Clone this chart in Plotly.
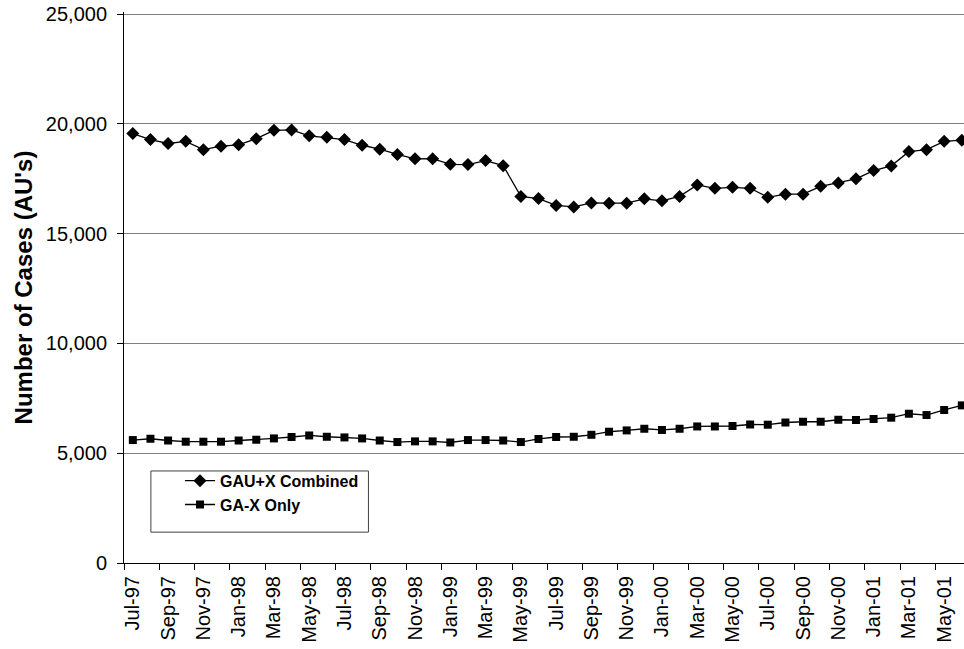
import plotly.graph_objects as go

months = ["Jul-97","Aug-97","Sep-97","Oct-97","Nov-97","Dec-97",
          "Jan-98","Feb-98","Mar-98","Apr-98","May-98","Jun-98",
          "Jul-98","Aug-98","Sep-98","Oct-98","Nov-98","Dec-98",
          "Jan-99","Feb-99","Mar-99","Apr-99","May-99","Jun-99",
          "Jul-99","Aug-99","Sep-99","Oct-99","Nov-99","Dec-99",
          "Jan-00","Feb-00","Mar-00","Apr-00","May-00","Jun-00",
          "Jul-00","Aug-00","Sep-00","Oct-00","Nov-00","Dec-00",
          "Jan-01","Feb-01","Mar-01","Apr-01","May-01","Jun-01"]

gau_x_combined = [19560, 19290, 19110, 19210, 18830, 18990, 19050, 19330, 19710, 19730, 19460, 19390,
                  19290, 19030, 18850, 18610, 18410, 18420, 18160, 18150, 18330, 18100, 16700, 16600,
                  16290, 16220, 16400, 16390, 16390, 16590, 16500, 16700, 17220, 17070, 17115, 17070,
                  16660, 16800, 16800, 17160, 17315, 17500, 17875, 18090, 18740, 18830, 19210, 19260]

ga_x_only = [5600, 5660, 5580, 5525, 5525, 5525, 5580, 5615, 5675, 5740, 5810, 5750,
             5720, 5675, 5580, 5510, 5540, 5540, 5490, 5600, 5600, 5580, 5510, 5650,
             5740, 5750, 5840, 5980, 6040, 6115, 6060, 6115, 6220, 6220, 6240, 6310,
             6300, 6400, 6435, 6435, 6525, 6515, 6560, 6620, 6800, 6740, 6970, 7180]

y_ticks = [0, 5000, 10000, 15000, 20000, 25000]

idx = list(range(len(months)))
font_family = "Arial, Liberation Sans, sans-serif"

fig = go.Figure()
fig.add_trace(go.Scatter(
    x=idx, y=gau_x_combined, name="GAU+X Combined", mode="lines+markers",
    line=dict(color="black", width=1.3),
    marker=dict(symbol="diamond", size=10, color="black"),
    cliponaxis=False,
))
fig.add_trace(go.Scatter(
    x=idx, y=ga_x_only, name="GA-X Only", mode="lines+markers",
    line=dict(color="black", width=1.3),
    marker=dict(symbol="square", size=8, color="black"),
    cliponaxis=False,
))

# legend frame (paper coords)
fig.add_shape(type="rect", xref="paper", yref="paper",
              x0=0.032, x1=0.291, y0=0.056, y1=0.167,
              line=dict(color="#404040", width=1), fillcolor="white", layer="above")

fig.update_layout(
    width=964, height=649,
    margin=dict(l=124, r=0, t=12, b=86, autoexpand=False),
    paper_bgcolor="white", plot_bgcolor="white",
    font=dict(family=font_family, size=20, color="black"),
    showlegend=True,
    legend=dict(
        x=0.0667, y=0.180, xanchor="left", yanchor="top",
        bgcolor="rgba(0,0,0,0)", borderwidth=0,
        font=dict(family=font_family, size=16, color="black", weight="bold"),
        tracegroupgap=0,
    ),
)

fig.update_xaxes(
    range=[-0.5, 47.125], automargin=False,
    tickmode="array", tickvals=idx[::2], ticktext=months[::2],
    tickangle=-90, ticks="", showgrid=False, ticklabelstandoff=4,
    showline=True, linecolor="black", linewidth=1,
    tickfont=dict(family=font_family, size=20, color="black"),
    minor=dict(tickmode="linear", tick0=-0.5, dtick=2, ticks="outside",
               ticklen=6, tickcolor="black", tickwidth=1, showgrid=False),
    zeroline=False,
)

fig.update_yaxes(
    range=[0, 25100], automargin=False,
    tickmode="array", tickvals=y_ticks, tickformat=",",
    ticks="outside", ticklen=6, tickcolor="black", ticklabelstandoff=6,
    ticklabeloverflow="allow",
    showgrid=True, gridcolor="#808080", gridwidth=1,
    showline=True, linecolor="black", linewidth=1,
    zeroline=False,
    tickfont=dict(family=font_family, size=20, color="black"),
    title=dict(text="Number of Cases (AU's)",
               font=dict(family=font_family, size=24, color="black", weight="bold"),
               standoff=6),
)

fig.write_html("out.html", config={"displayModeBar": False},
               post_script="document.body.style.margin='0';")
